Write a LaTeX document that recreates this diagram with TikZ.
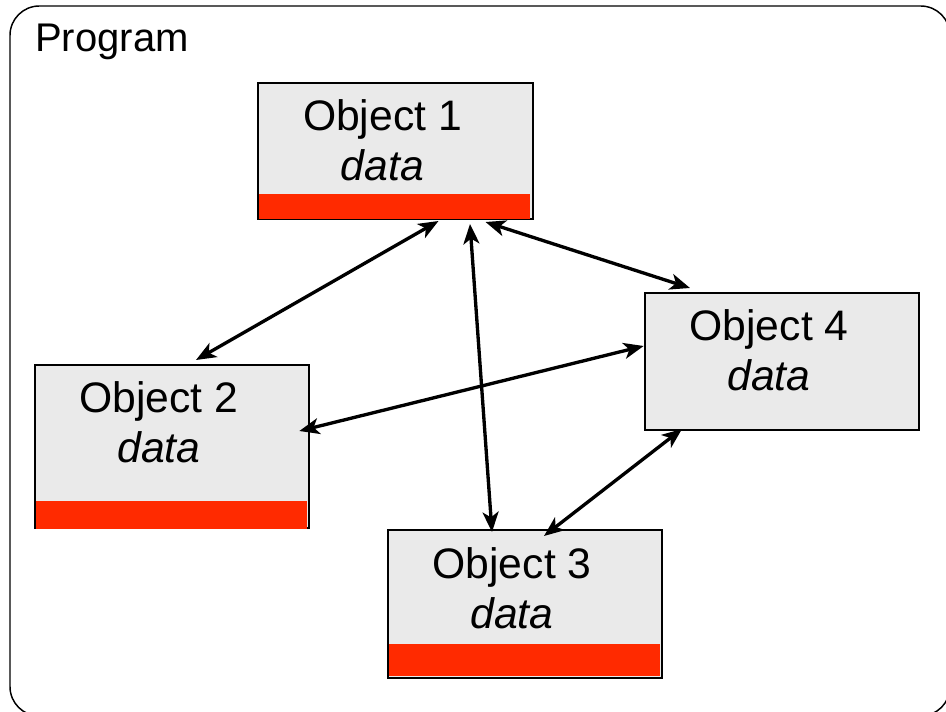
\documentclass[tikz,border=0pt]{standalone}
\usepackage{fontspec}
\setmainfont{Liberation Sans}
\usepackage{tikz}
\usetikzlibrary{arrows.meta,positioning,calc}
\definecolor{boxfill}{HTML}{EAEAEA}
\definecolor{datared}{HTML}{FF2A00}
\tikzset{
  obj/.style  ={draw=black, line width=1.5pt, fill=boxfill, minimum width=206pt, inner sep=0pt},
  txt/.style  ={font=\fontsize{32pt}{37.5pt}\selectfont, align=center, anchor=base, inner sep=0pt},
  ttl/.style  ={font=\fontsize{30pt}{36pt}\selectfont, anchor=base west, inner sep=0pt},
  bar/.style  ={fill=datared},
  link/.style ={draw=black, line width=2.5pt,
                {Stealth[length=15pt,width=12pt,inset=4pt]}-{Stealth[length=15pt,width=12pt,inset=4pt]}},
  frame/.style={draw=black, line width=1.1pt, rounded corners=22pt},
}

\begin{document}
\begin{tikzpicture}[x=0.75pt,y=-0.75pt]
  \useasboundingbox (0,0) rectangle (946,712);
  % the program: only its top and left edges fall inside the page
  \draw[frame] (10,6) rectangle (950,716);
  \node[ttl] (prog) at (35,52) {Program};

  % ---------------- objects ----------------------------------------------
  \node[obj, minimum height=102pt]    (o1) at (395.5,151) {};
  \node[obj, minimum height=122.25pt] (o2) at (172,446.5) {};
  \node[obj, minimum height=111pt]    (o3) at (525,604) {};
  \node[obj, minimum height=102.75pt] (o4) at (782,361.5) {};

  % red strip along the bottom of objects 1-3
  \fill[bar] ($(o1.south west)+(2,-1)$) rectangle ($(o1.south east)+(-4,-26)$);
  \fill[bar] ($(o2.south west)+(2,0)$)  rectangle ($(o2.south east)+(-3,-28)$);
  \fill[bar] ($(o3.south west)+(2,-3)$) rectangle ($(o3.south east)+(-3,-35)$);

  % base of a two-line node sits on its last line
  \foreach \o/\n in {o1/1, o2/2, o3/3, o4/4}
    \node[txt] (t\n) at ($(\o.north)+(-13,99)$) {Object \n\\\textit{data}};

  % ---------------- messages ---------------------------------------------
  \draw[link] ($(o1.south)+(43,1)$)      -- ($(o2.north)+(24,-4)$);
  \draw[link] ($(o1.south)+(74.5,4)$)    -- ($(o3.north)+(-33,3)$);
  \draw[link] ($(o1.south)+(90,2)$)      -- ($(o4.north)+(-92,-4)$);
  \draw[link] ($(o2.east)+(-11,-15.5)$)  -- ($(o4.west)+(0,-15.5)$);
  \draw[link] ($(o3.north)+(19,7)$)      -- ($(o4.south)+(-100,-2)$);
\end{tikzpicture}
\end{document}
